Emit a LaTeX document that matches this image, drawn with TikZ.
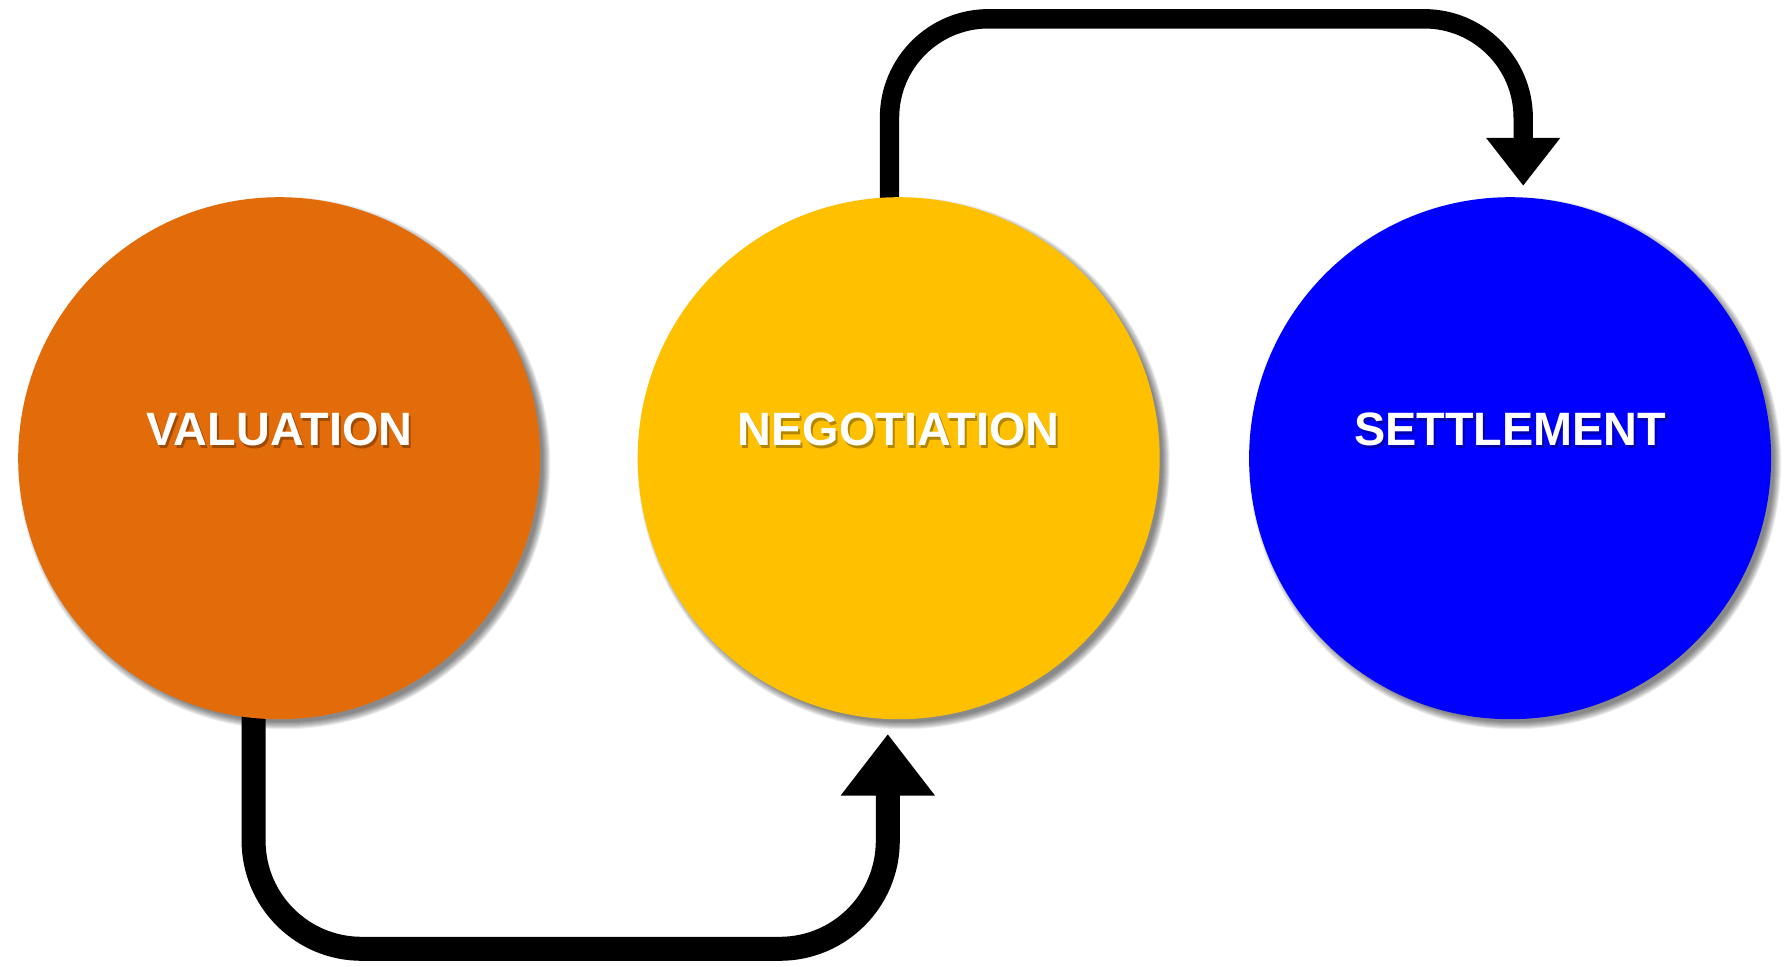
\documentclass[tikz,border=0pt]{standalone}
\usepackage{fontspec}
\setmainfont{Liberation Sans}
\usetikzlibrary{arrows.meta,backgrounds,calc}
\definecolor{cOrange}{HTML}{E36C0A}
\definecolor{cYellow}{HTML}{FFC000}
\definecolor{cBlue}{HTML}{0000FF}
\begin{document}
\begin{tikzpicture}[x=1bp,y=-1bp,
  circ/.style={circle, minimum size=522bp, inner sep=0pt},
  shade/.style={fill=black, opacity=0.075},
  lbl/.style={font=\fontsize{47}{50}\selectfont\bfseries, text=white, inner sep=0pt},
  lblshadow/.style={lbl, text=black, opacity=0.3},
  connA/.style={line width=24bp, rounded corners=108bp, -{Triangle[length=61.5bp,width=90bp]}},
  connB/.style={line width=19.4bp, rounded corners=99bp, -{Triangle[length=48bp,width=71bp]}}]
\useasboundingbox (0,0) rectangle (1787,966);

\node[circ, fill=cOrange] (v) at (279.2,458.2) {};
\node[circ, fill=cYellow] (n) at (898.7,458.2) {};
\node[circ, fill=cBlue]   (s) at (1510.1,458.2) {};

\node[lblshadow] (vts) at (281.2,431.9) {VALUATION};
\node[lbl] (vt) at (279.2,429.7) {VALUATION};
\node[lblshadow] (nts) at (900.7,431.9) {NEGOTIATION};
\node[lbl] (nt) at (898.7,429.7) {NEGOTIATION};
\node[lblshadow] (sts) at (1512.1,431.9) {SETTLEMENT};
\node[lbl] (st) at (1510.1,429.7) {SETTLEMENT};

\coordinate (a1) at (253.6,700);
\coordinate (a2) at (887.8,734);
\coordinate (b1) at (889.5,230);
\coordinate (b2) at (1523.2,185.8);

\begin{pgfonlayer}{background}
\foreach \c in {v,n,s}{
  \foreach \k in {0,...,7}{
    \fill[shade] ($(\c.center)+(5,5)$) circle ({266-\k});
  }
}
\draw[connA] (a1) -- (a1 |- 0,948.8) -- (a2 |- 0,948.8) -- (a2);
\draw[connB] (b1) -- (b1 |- 0,18.8) -- (b2 |- 0,18.8) -- (b2);
\end{pgfonlayer}
\end{tikzpicture}
\end{document}
